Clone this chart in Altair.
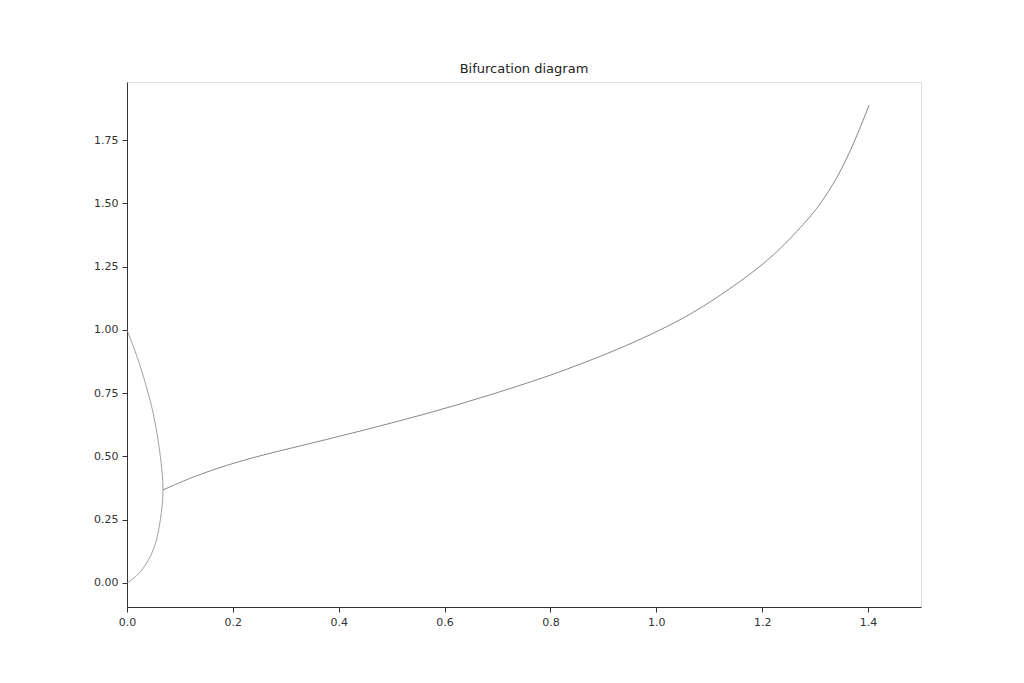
import altair as alt
import pandas as pd

# Fold branch (upper branch from (0,1) down to the turning point, then lower branch to (0,0))
fold_x = [0.0, 0.021, 0.040, 0.052, 0.063, 0.068, 0.063, 0.052, 0.036, 0.018, 0.0]
fold_y = [1.0, 0.882, 0.750, 0.645, 0.500, 0.368, 0.250, 0.145, 0.075, 0.028, 0.0]

# Main branch from the turning point up to x = 1.4
main_x = [0.068, 0.125, 0.188, 0.251, 0.314, 0.377, 0.440, 0.503, 0.566, 0.629, 0.692,
          0.755, 0.818, 0.894, 0.957, 1.020, 1.083, 1.158, 1.221, 1.284, 1.309, 1.341,
          1.372, 1.402]
main_y = [0.368, 0.420, 0.466, 0.503, 0.535, 0.567, 0.600, 0.634, 0.669, 0.707, 0.747,
          0.789, 0.834, 0.895, 0.950, 1.012, 1.083, 1.190, 1.290, 1.430, 1.495, 1.597,
          1.730, 1.889]

x_ticks = [0.0, 0.2, 0.4, 0.6, 0.8, 1.0, 1.2, 1.4]
y_ticks = [0.0, 0.25, 0.5, 0.75, 1.0, 1.25, 1.5, 1.75]

fold_df = pd.DataFrame({"r": fold_x, "x": fold_y, "i": list(range(len(fold_x)))})
main_df = pd.DataFrame({"r": main_x, "x": main_y})

font = "DejaVu Sans"
x_scale = alt.Scale(domain=[0, 1.5], nice=False, zero=False)
y_scale = alt.Scale(domain=[-0.095, 1.98], nice=False, zero=False)
x_axis = alt.Axis(values=x_ticks, format=".1f", title=None, grid=False,
                  tickSize=5, tickColor="#333", domainColor="#333",
                  labelColor="#333", labelFont=font, labelFontSize=11,
                  labelPadding=4, labelFlush=False)
y_axis = alt.Axis(values=y_ticks, format=".2f", title=None, grid=False,
                  tickSize=5, tickColor="#333", domainColor="#333",
                  labelColor="#333", labelFont=font, labelFontSize=11,
                  labelPadding=4, labelFlush=False)

fold = alt.Chart(fold_df).mark_line(
    stroke="#777777", strokeWidth=0.7, interpolate="catmull-rom"
).encode(
    x=alt.X("r:Q", scale=x_scale, axis=x_axis),
    y=alt.Y("x:Q", scale=y_scale, axis=y_axis),
    order="i:Q",
)

main = alt.Chart(main_df).mark_line(
    stroke="#555555", strokeWidth=0.7, interpolate="basis"
).encode(
    x=alt.X("r:Q", scale=x_scale),
    y=alt.Y("x:Q", scale=y_scale),
)

chart = alt.layer(fold, main).properties(
    width=794, height=525,
    title=alt.TitleParams("Bifurcation diagram", font=font, fontSize=13,
                          fontWeight="normal", color="#222", offset=6),
    autosize=alt.AutoSizeParams(type="none"),
    padding={"left": 119, "top": 74, "right": 95, "bottom": 60},
).configure_view(
    stroke="#333", strokeWidth=1
).configure(background="white")

chart.save("out.html", embed_options={"renderer": "svg", "actions": False})
